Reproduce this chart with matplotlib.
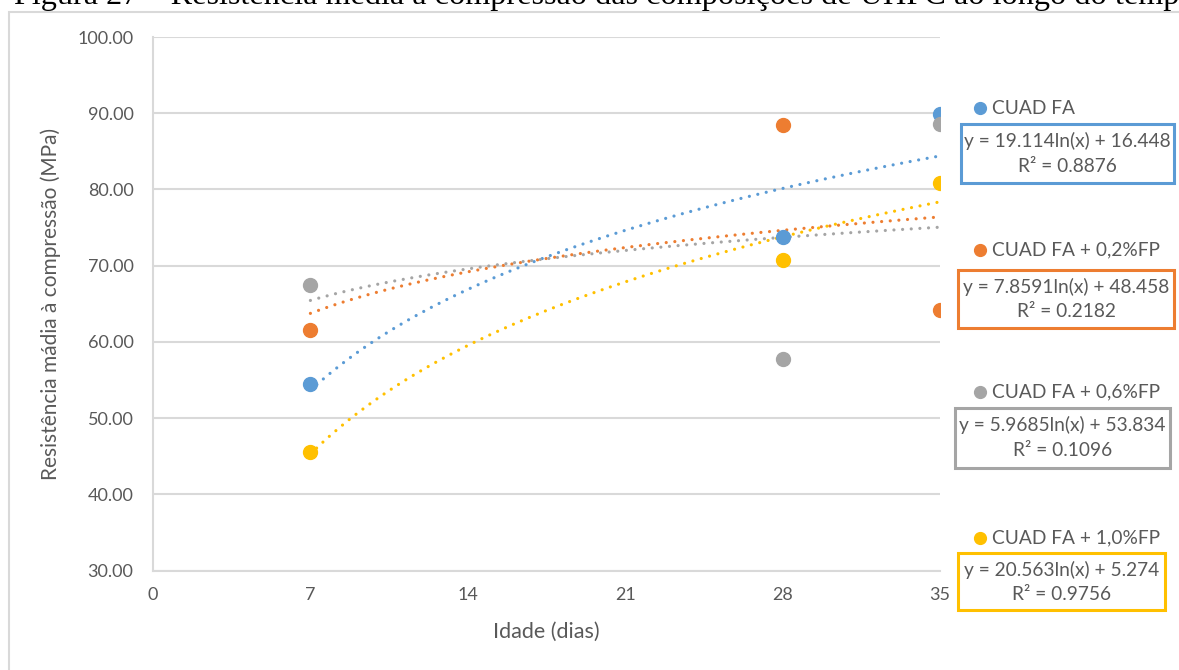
import matplotlib.pyplot as plt
import numpy as np
from matplotlib.lines import Line2D
from matplotlib.patches import Rectangle

# ages (days) and mean compressive strength (MPa) of each mix
idade = [7, 28, 35]
cuad_fa = [54.5, 73.8, 89.9]
cuad_fa_02 = [61.6, 88.4, 64.2]
cuad_fa_06 = [67.5, 57.8, 88.6]
cuad_fa_10 = [45.6, 70.8, 80.8]

series_names = ['CUAD FA', 'CUAD FA + 0,2%FP', 'CUAD FA + 0,6%FP', 'CUAD FA + 1,0%FP']
series_values = [cuad_fa, cuad_fa_02, cuad_fa_06, cuad_fa_10]
colors = ['#5B9BD5', '#ED7D31', '#A5A5A5', '#FFC000']

# logarithmic trendlines y = a ln(x) + b and their R²
trend_a = [19.114, 7.8591, 5.9685, 20.563]
trend_b = [16.448, 48.458, 53.834, 5.274]
trend_r2 = ['0.8876', '0.2182', '0.1096', '0.9756']
trend_b_txt = ['16.448', '48.458', '53.834', '5.274']
trend_a_txt = ['19.114', '7.8591', '5.9685', '20.563']

x_ticks = [0, 7, 14, 21, 28, 35]
y_ticks = [30, 40, 50, 60, 70, 80, 90, 100]

plt.rcParams['font.family'] = ['Lato', 'DejaVu Sans']
text_color = '#595959'
grid_color = '#D9D9D9'

W, H = 1179, 670
fig = plt.figure(figsize=(W / 100, H / 100), dpi=100)


def fx(px):
    return px / W


def fy(py):
    return 1 - py / H


# outer chart frame, running off the right and bottom edges
fig.add_artist(Rectangle((fx(9), fy(1000)), 2.0, fy(12) - fy(1000), transform=fig.transFigure,
                         fill=False, edgecolor=grid_color, linewidth=1.5))

# figure caption above the chart, partly cut at the top
fig.text(fx(14), fy(4), 'Figura 27 – Resistência média à compressão das composições de UHPC ao longo do tempo',
         family='Liberation Serif', fontsize=23.2, color='black', ha='left', va='baseline')

ax = fig.add_axes([fx(153), fy(570.7), fx(940) - fx(153), fy(37) - fy(570.7)])
ax.set_xlim(0, 35)
ax.set_ylim(30, 100)
ax.set_xticks(x_ticks)
ax.set_yticks(y_ticks)
ax.set_yticklabels(['%.2f' % v for v in y_ticks])
ax.tick_params(length=0, labelsize=13, colors=text_color, pad=14)
ax.tick_params(axis='x', pad=12)
ax.grid(axis='y', color=grid_color, linewidth=1.5)
ax.set_axisbelow(True)
for side in ['top', 'right']:
    ax.spines[side].set_visible(False)
for side in ['left', 'bottom']:
    ax.spines[side].set_color(grid_color)
    ax.spines[side].set_linewidth(1.5)

xs = np.linspace(7, 35, 200)
for i in range(len(series_values)):
    ax.plot(xs, trend_a[i] * np.log(xs) + trend_b[i], color=colors[i], linewidth=2.3,
            linestyle=(0, (0.01, 2.7)), dash_capstyle='round', zorder=2)
for i in range(len(series_values)):
    ax.plot(idade, series_values[i], 'o', color=colors[i], markersize=10, zorder=3)

ax.set_xlabel('Idade (dias)', fontsize=15.5, color=text_color, labelpad=13)
ax.set_ylabel('Resistência mádia à compressão (MPa)', fontsize=15, color=text_color, labelpad=12)

# legend entries with the trendline equation boxes
label_y = [108, 250, 392, 538]
box_top = [124, 270, 408, 553]
box_bottom = [183, 328, 468, 610]
box_left = [961, 958, 955, 958]
box_right = [1174, 1174, 1170, 1165]
for i in range(len(series_names)):
    fig.add_artist(Line2D([fx(980)], [fy(label_y[i])], marker='o', color=colors[i], markersize=8.5,
                          transform=fig.transFigure))
    fig.text(fx(992), fy(label_y[i]), series_names[i], fontsize=13.8, color=text_color,
             ha='left', va='center')
    fig.add_artist(Rectangle((fx(box_left[i]), fy(box_bottom[i])), fx(box_right[i]) - fx(box_left[i]),
                             fy(box_top[i]) - fy(box_bottom[i]), transform=fig.transFigure,
                             fill=False, edgecolor=colors[i], linewidth=2.2))
    cx = fx((box_left[i] + box_right[i]) / 2)
    fig.text(cx, fy(box_top[i] + 17), 'y = %sln(x) + %s' % (trend_a_txt[i], trend_b_txt[i]),
             fontsize=13.8, color=text_color, ha='center', va='center')
    fig.text(cx, fy(box_top[i] + 42), 'R² = %s' % trend_r2[i],
             fontsize=13.8, color=text_color, ha='center', va='center')

fig.savefig('out.png', dpi=100)
